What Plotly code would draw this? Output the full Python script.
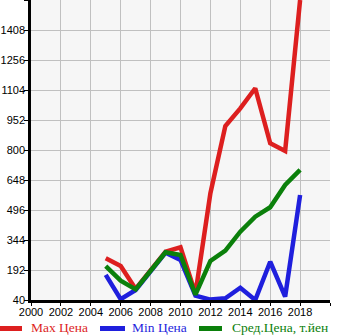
import plotly.graph_objects as go

years = list(range(2005, 2019))
max_price = [251, 212, 96, 190, 285, 307, 72, 581, 922, 1011, 1113, 834, 795, 1560]
min_price = [167, 44, 91, 189, 280, 243, 62, 42, 49, 102, 40, 234, 57, 572]
avg_price = [212, 138, 94, 189, 282, 268, 67, 238, 290, 386, 462, 510, 623, 699]

x_ticks = list(range(2000, 2021, 2))
x_labels = [str(v) for v in x_ticks[:-1]] + [""]
y_ticks = list(range(40, 1561, 152))
y_labels = [str(v) for v in y_ticks[:-1]] + [""]

series = [
    ("Max Цена", max_price, "#dd1f1f"),
    ("Min Цена", min_price, "#1f1fdd"),
    ("Сред.Цена, т.йен", avg_price, "#0b800b"),
]

W, H = 345, 335
ML, MR, MT, MB = 31, 15, 0, 35
PW, PH = W - ML - MR, H - MT - MB


def px_x(px):
    return (px - ML) / PW


def px_y(py):
    return (H - MB - py) / PH


fig = go.Figure()
for name, vals, color in series:
    fig.add_trace(go.Scatter(
        x=years, y=vals, name=name, mode="lines",
        line=dict(color=color, width=4.5),
        showlegend=False,
    ))

# legend row below the axis: short line swatch followed by coloured label
legend_pos = [(0, 22, 29), (100, 125, 130), (199, 222, 230)]
legend_y = 327.5
for (name, _, color), (x0, x1, tx) in zip(series, legend_pos):
    fig.add_shape(type="line", xref="paper", yref="paper",
                  x0=px_x(x0), x1=px_x(x1), y0=px_y(legend_y + 1), y1=px_y(legend_y + 1),
                  line=dict(color=color, width=5))
    fig.add_annotation(text=name, xref="paper", yref="paper",
                       x=px_x(tx), y=px_y(legend_y), xanchor="left", yanchor="middle",
                       showarrow=False,
                       font=dict(family="Liberation Serif, DejaVu Serif, serif",
                                 size=13.5, color=color))

tick_font = dict(family="Liberation Sans, DejaVu Sans, sans-serif", size=11, color="#000")

fig.update_layout(
    width=W, height=H,
    margin=dict(l=ML, r=MR, t=MT, b=MB, autoexpand=False),
    paper_bgcolor="white",
    plot_bgcolor="#f6f6f6",
    showlegend=False,
    xaxis=dict(
        range=[2000, 2020], tickmode="array", tickvals=x_ticks, ticktext=x_labels,
        showgrid=True, gridcolor="#c0c0c0", gridwidth=1,
        showline=True, linecolor="#000", linewidth=2.5,
        ticks="outside", ticklen=3, tickcolor="#000", tickwidth=1,
        ticklabelstandoff=-3,
        tickfont=tick_font, zeroline=False, fixedrange=True,
    ),
    yaxis=dict(
        range=[40, 1560], tickmode="array", tickvals=y_ticks, ticktext=y_labels,
        showgrid=True, gridcolor="#c0c0c0", gridwidth=1,
        showline=True, linecolor="#000", linewidth=2.5,
        ticks="outside", ticklen=4, tickcolor="#000", tickwidth=1,
        ticklabelstandoff=-3,
        tickfont=tick_font, zeroline=False, fixedrange=True,
    ),
)

fig.write_html("out.html", config={"displayModeBar": False})
